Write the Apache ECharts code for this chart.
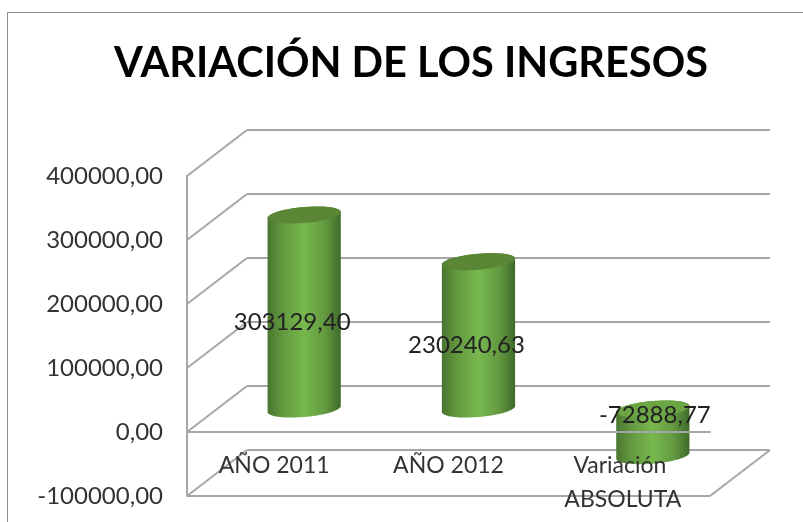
<!DOCTYPE html>
<html><head><meta charset="utf-8">
<style>html,body{margin:0;padding:0;background:#fff}#c{width:803px;height:522px}</style>
<script src="https://cdn.jsdelivr.net/npm/echarts@6/dist/echarts.min.js"></script>
</head><body><div id="c"></div>
<script>
const titleText = 'VARIACIÓN DE LOS INGRESOS';
const categories = ['AÑO 2011', 'AÑO 2012', 'Variación ABSOLUTA'];
const values = [303129.40, 230240.63, -72888.77];
const ticks = [-100000, 0, 100000, 200000, 300000, 400000];

const DX = 60, DY = -46;
const GRID = '#a6a6a6';
const TEXT = '#333333';
const FONT = 'Lato';
const fmt = v => Number(v).toFixed(2).replace('.', ',');

function ellipsePts(cx, cy, rx, ry, sh, from, to) {
  const pts = [];
  for (let i = 0; i <= 40; i++) {
    const t = from + (to - from) * i / 40;
    pts.push([cx + rx * Math.cos(t), cy + ry * Math.sin(t) + sh * Math.cos(t)]);
  }
  return pts;
}

const line = (x1, y1, x2, y2) => ({
  type: 'line', shape: {x1, y1, x2, y2},
  style: {stroke: GRID, lineWidth: 2, fill: null}
});

function renderGrid(params, api) {
  const cs = params.coordSys;
  const tick = api.value(0);
  const y = api.coord([0, tick])[1];
  const l = cs.x, r = cs.x + cs.width;
  const children = [
    line(l, y, l + DX, y + DY),
    line(l + DX, y + DY, r + DX, y + DY)
  ];
  if (tick === ticks[0]) {
    children.push(line(l, y, r, y));
    children.push(line(r, y, r + DX, y + DY));
  }
  return {type: 'group', children};
}

function renderBar(params, api) {
  const i = api.value(0), v = api.value(1);
  const bw = api.size([1, 0])[0];
  const rx = bw * 0.21, ry = 8, sh = -3;
  const p0 = api.coord([i, 0]), p1 = api.coord([i, v]);
  const cx = p0[0] + DX / 2, by = p0[1] + DY / 2, ty = p1[1] + DY / 2;
  const upper = Math.min(by, ty), lower = Math.max(by, ty);
  const body = ellipsePts(cx, lower, rx, ry, sh, 0, Math.PI)
    .concat(ellipsePts(cx, upper, rx, ry, sh, Math.PI, 2 * Math.PI));
  const grad = new echarts.graphic.LinearGradient(0, 0, 1, 0, [
    {offset: 0, color: '#4a7530'},
    {offset: 0.2, color: '#62983f'},
    {offset: 0.5, color: '#78b84e'},
    {offset: 0.78, color: '#639a40'},
    {offset: 1, color: '#3f6a29'}
  ]);
  const neg = v < 0;
  return {type: 'group', children: [
    {type: 'polygon', shape: {points: body}, style: {fill: grad}},
    {type: 'polygon', shape: {points: ellipsePts(cx, upper, rx, ry, sh, 0, 2 * Math.PI)},
     style: {fill: neg ? '#6ba544' : '#5a8636'}}
  ]};
}

function renderLabel(params, api) {
  const i = api.value(0), v = api.value(1);
  const p0 = api.coord([i, 0]), p1 = api.coord([i, v]);
  const cx = p0[0] + DX / 2, my = (p0[1] + p1[1]) / 2 + DY / 2;
  const neg = v < 0;
  return {
    type: 'text', z2: 100,
    style: {
      x: cx + (neg ? 2 : -12), y: my + (neg ? -17 : 10),
      text: fmt(v), fill: '#222222', font: '24px ' + FONT,
      align: 'center', verticalAlign: 'middle'
    }
  };
}

const chart = echarts.init(document.getElementById('c'), null, {renderer: 'canvas'});
chart.setOption({
  animation: false,
  backgroundColor: '#ffffff',
  title: {
    text: titleText, left: 109, top: 38,
    textStyle: {fontFamily: FONT, fontWeight: 'bold', fontSize: 41.5, color: '#000000'}
  },
  grid: {left: 187, right: 93, top: 176, bottom: 26, outerBoundsMode: 'none'},
  xAxis: {
    type: 'category', data: categories, z: 5,
    axisLine: {onZero: true, lineStyle: {color: GRID, width: 2}},
    axisTick: {show: false},
    axisLabel: {
      margin: -47, fontFamily: FONT, fontSize: 23, color: TEXT,
      width: 130, overflow: 'break', lineHeight: 34, interval: 0
    }
  },
  yAxis: {
    type: 'value', min: ticks[0], max: ticks[ticks.length - 1], interval: 100000,
    axisLine: {show: true, lineStyle: {color: GRID, width: 2}},
    axisTick: {show: false},
    splitLine: {show: false},
    axisLabel: {
      margin: 24, fontFamily: FONT, fontSize: 24, color: TEXT,
      formatter: fmt
    }
  },
  graphic: [{
    type: 'rect', silent: true, z: -1,
    shape: {x: 7.5, y: 12.5, width: 1000, height: 600},
    style: {fill: 'none', stroke: '#8c8c8c', lineWidth: 1}
  }],
  series: [
    {type: 'custom', name: 'grid', z: 1, clip: false, silent: true,
     coordinateSystem: 'cartesian2d', renderItem: renderGrid,
     encode: {y: 0}, data: ticks.map(t => [t])},
    {type: 'custom', name: 'bars', z: 2, clip: false, silent: true,
     renderItem: renderBar, encode: {x: 0, y: 1},
     data: values.map((v, i) => [i, v])},
    {type: 'custom', name: 'labels', z: 10, clip: false, silent: true,
     renderItem: renderLabel, encode: {x: 0, y: 1},
     data: values.map((v, i) => [i, v])}
  ]
});
</script></body></html>
